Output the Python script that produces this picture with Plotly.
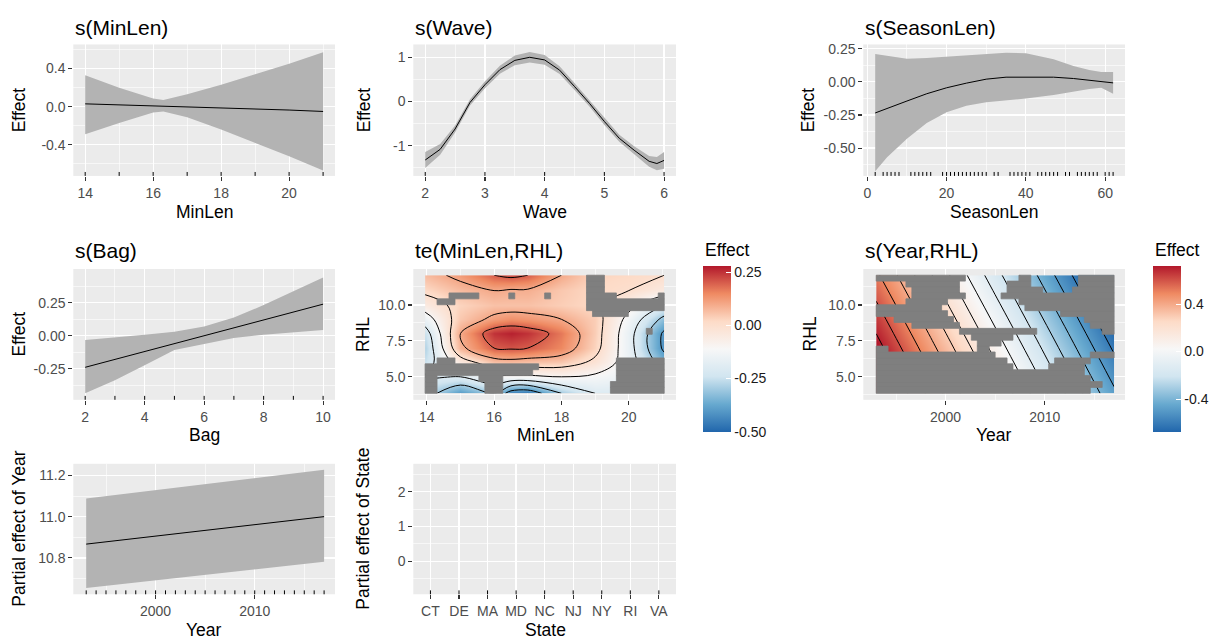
import numpy as np
import plotly.graph_objects as go

# ---------------- data ----------------
# s(MinLen)
minlen_x = [14, 15, 16, 16.3, 17, 18, 19, 20, 21]
minlen_fit = [0.03, 0.02, 0.01, 0.008, 0.0, -0.015, -0.025, -0.035, -0.05]
minlen_upper = [0.33, 0.20, 0.085, 0.07, 0.13, 0.23, 0.34, 0.45, 0.57]
minlen_lower = [-0.29, -0.17, -0.06, -0.05, -0.11, -0.24, -0.38, -0.52, -0.67]
minlen_rug = [14, 15, 16, 17, 18, 19, 20, 21]

# s(Wave)
wave_x = [2.0, 2.25, 2.5, 2.75, 3.0, 3.25, 3.5, 3.75, 4.0, 4.25, 4.5, 4.75, 5.0, 5.25, 5.5, 5.75, 5.88, 6.0]
wave_fit = [-1.32, -1.08, -0.62, -0.02, 0.38, 0.72, 0.93, 1.0, 0.94, 0.71, 0.34, -0.04, -0.45, -0.83, -1.1, -1.35, -1.4, -1.33]
wave_halfwidth = [0.18, 0.12, 0.08, 0.07, 0.08, 0.09, 0.11, 0.12, 0.11, 0.09, 0.08, 0.07, 0.08, 0.08, 0.09, 0.12, 0.15, 0.19]
wave_rug = [2, 3, 4, 5, 6]

# s(SeasonLen)
season_x = [2, 5, 10, 15, 20, 25, 30, 35, 40, 47, 52, 56, 59, 62]
season_fit = [-0.235, -0.2, -0.145, -0.09, -0.045, -0.01, 0.02, 0.035, 0.037, 0.035, 0.025, 0.013, 0.005, -0.008]
season_upper = [0.21, 0.195, 0.175, 0.18, 0.19, 0.2, 0.21, 0.22, 0.215, 0.17, 0.12, 0.09, 0.075, 0.075]
season_lower = [-0.675, -0.57, -0.43, -0.31, -0.23, -0.18, -0.155, -0.14, -0.125, -0.1, -0.075, -0.055, -0.045, -0.09]
season_rug = [2, 4, 5, 6, 7, 8, 11, 12, 13, 14, 15, 16, 19, 20, 21, 22, 23, 24, 25, 26, 27, 28, 29, 30,
              32, 33, 36, 37, 38, 39, 40, 41, 43, 44, 45, 46, 47, 48, 50, 51, 53, 54, 55, 56, 57, 58,
              60, 61, 62]

# s(Bag)
bag_x = [2, 3, 4, 5, 6, 7, 8, 9, 10]
bag_fit = [-0.24, -0.18, -0.12, -0.06, 0.0, 0.06, 0.12, 0.18, 0.24]
bag_upper = [-0.033, -0.015, 0.008, 0.03, 0.07, 0.138, 0.233, 0.338, 0.443]
bag_lower = [-0.438, -0.338, -0.225, -0.108, -0.063, -0.018, 0.008, 0.025, 0.043]
bag_rug = [2, 3, 4, 5, 6, 7, 8, 9, 10]

# te(MinLen,RHL) fitted surface (rows = RHL ascending)
te_minlen = [13.95, 15, 16, 16.5, 17, 18, 19, 20, 21.05]
te_rhl = [3.85, 5, 6, 7, 8, 9, 10, 11, 12.07]
te_effect = [
    [-0.25, -0.40, -0.30, -0.45, -0.47, -0.30, -0.20, -0.20, -0.20],
    [-0.20, -0.20, -0.12, -0.12, -0.12, -0.10, -0.12, -0.15, -0.25],
    [-0.25, -0.05, 0.06, 0.07, 0.06, 0.05, -0.02, -0.15, -0.35],
    [-0.28, 0.08, 0.20, 0.21, 0.20, 0.15, 0.03, -0.16, -0.42],
    [-0.25, 0.10, 0.25, 0.27, 0.25, 0.17, 0.04, -0.16, -0.42],
    [-0.15, 0.05, 0.12, 0.14, 0.13, 0.10, 0.04, -0.13, -0.33],
    [-0.05, 0.03, 0.06, 0.06, 0.06, 0.04, 0.02, -0.07, -0.20],
    [0.02, 0.07, 0.10, 0.09, 0.09, 0.05, 0.02, 0.00, -0.05],
    [0.07, 0.12, 0.20, 0.22, 0.20, 0.10, 0.03, 0.02, 0.00],
]
# grey (too far from data) cells on a 40 x 20 grid, top row first: runs of columns
te_masked_runs = [
    [(27, 29)], [(27, 29)], [(27, 29)],
    [(4, 8), (14, 14), (20, 20), (27, 31), (39, 39)],
    [(2, 4), (27, 39)], [(27, 39)], [(28, 33)], [], [], [(37, 37)],
    [], [], [], [],
    [(2, 4), (32, 39)], [(0, 18), (32, 39)], [(0, 17), (32, 39)],
    [(0, 1), (9, 12), (32, 39)], [(0, 1), (10, 12), (31, 39)], [(0, 1), (10, 12), (31, 39)],
]

# s(Year,RHL) fitted surface (rows = RHL ascending)
yr_year = [1993, 1999, 2005, 2011, 2017]
yr_rhl = [3.85, 8.0, 12.07]
yr_effect = [
    [0.88, 0.54, 0.20, -0.14, -0.48],
    [0.70, 0.36, 0.02, -0.32, -0.66],
    [0.52, 0.18, -0.16, -0.50, -0.84],
]
# cells covered by data on a 40 x 20 grid, top row first: runs of columns
yr_covered_runs = [
    [(15, 23), (26, 33)], [(0, 4), (14, 21), (26, 33)], [(0, 5), (14, 21), (28, 32)], [(0, 5), (15, 20)],
    [(0, 4), (12, 23)], [(11, 24)], [(12, 30)], [(0, 2), (13, 34)], [(0, 5), (14, 35)],
    [(0, 13), (27, 37)], [(0, 15), (23, 39)], [(0, 16), (21, 39)], [(2, 16), (19, 39)],
    [(20, 35)], [(22, 29), (36, 39)], [(23, 28), (35, 39)], [(35, 39)], [(36, 39)],
    [(38, 39)], [(36, 39)],
]

# parametric Year
year_x = [1993, 2017]
year_fit = [10.867, 11.0]
year_upper = [11.088, 11.227]
year_lower = [10.654, 10.782]
year_rug = [1993, 1994, 1995, 1996, 1997, 1998, 1999, 2000, 2001, 2002, 2003, 2004, 2005,
            2006, 2007, 2008, 2009, 2010, 2011, 2012, 2013, 2014, 2015, 2016, 2017]

# State factor
state_cats = ['CT', 'DE', 'MA', 'MD', 'NC', 'NJ', 'NY', 'RI', 'VA']

# ---------------- styling / layout ----------------
W, H = 1221, 639
COLS = [(73.3, 335.0), (413.3, 676.0), (863.3, 1125.0)]
ROWS = [(40.7, 173.0), (266.7, 398.3), (462.7, 594.0)]
RIBBON = '#B3B3B3'
MASK = '#7F7F7F'
TICKFONT = dict(size=14, color='#4D4D4D')
AXTITLE = 17.5
RDBU = [[0.0, '#2166AC'], [1 / 6, '#67A9CF'], [2 / 6, '#D1E5F0'], [3 / 6, '#F7F7F7'],
        [4 / 6, '#FDDBC7'], [5 / 6, '#EF8A62'], [1.0, '#B2182B']]


def xdom(c):
    return [COLS[c][0] / W, COLS[c][1] / W]


def ydom(r):
    return [1 - ROWS[r][1] / H, 1 - ROWS[r][0] / H]


def sfx(i):
    return '' if i == 1 else str(i)


panels = {
    1: dict(col=0, row=0, xr=[13.65, 21.35], yr=[-0.726, 0.653],
            xt=([14, 16, 18, 20], ['14', '16', '18', '20']), yt=([-0.4, 0, 0.4], ['-0.4', '0.0', '0.4']),
            xm=[15, 17, 19, 21], ym=[-0.6, -0.2, 0.2, 0.6]),
    2: dict(col=1, row=0, xr=[1.8, 6.2], yr=[-1.68, 1.29],
            xt=([2, 3, 4, 5, 6], ['2', '3', '4', '5', '6']), yt=([-1, 0, 1], ['-1', '0', '1']),
            xm=[2.5, 3.5, 4.5, 5.5], ym=[-1.5, -0.5, 0.5]),
    3: dict(col=2, row=0, xr=[-1, 65], yr=[-0.71, 0.282],
            xt=([0, 20, 40, 60], ['0', '20', '40', '60']),
            yt=([-0.5, -0.25, 0, 0.25], ['-0.50', '-0.25', '0.00', '0.25']),
            xm=[10, 30, 50], ym=[-0.625, -0.375, -0.125, 0.125]),
    4: dict(col=0, row=1, xr=[1.6, 10.4], yr=[-0.487, 0.507],
            xt=([2, 4, 6, 8, 10], ['2', '4', '6', '8', '10']),
            yt=([-0.25, 0, 0.25], ['-0.25', '0.00', '0.25']),
            xm=[3, 5, 7, 9], ym=[-0.375, -0.125, 0.125, 0.375]),
    5: dict(col=1, row=1, xr=[13.6, 21.4], yr=[3.4, 12.5],
            xt=([14, 16, 18, 20], ['14', '16', '18', '20']), yt=([5, 7.5, 10], ['5.0', '7.5', '10.0']),
            xm=[15, 17, 19, 21], ym=[3.75, 6.25, 8.75, 11.25]),
    6: dict(col=2, row=1, xr=[1991.7, 2018.1], yr=[3.4, 12.5],
            xt=([2000, 2010], ['2000', '2010']), yt=([5, 7.5, 10], ['5.0', '7.5', '10.0']),
            xm=[1995, 2005, 2015], ym=[3.75, 6.25, 8.75, 11.25]),
    7: dict(col=0, row=2, xr=[1991.7, 2018.1], yr=[10.624, 11.256],
            xt=([2000, 2010], ['2000', '2010']), yt=([10.8, 11.0, 11.2], ['10.8', '11.0', '11.2']),
            xm=[1995, 2005, 2015], ym=[10.7, 10.9, 11.1]),
    8: dict(col=1, row=2, xr=[-0.6, 8.6], yr=[-0.95, 2.8],
            xt=None, yt=([0, 1, 2], ['0', '1', '2']),
            xm=None, ym=[-0.5, 0.5, 1.5, 2.5]),
}

axis_common = dict(showline=False, zeroline=False, showgrid=True, gridcolor='white', gridwidth=1.2,
                   ticks='outside', ticklen=4, tickwidth=1.1, tickcolor='#333333',
                   tickfont=TICKFONT, fixedrange=True)

layout = dict(width=W, height=H, margin=dict(l=0, r=0, t=0, b=0), paper_bgcolor='white',
              plot_bgcolor='#EBEBEB', showlegend=False,
              font=dict(family='Liberation Sans, Arial, sans-serif', color='black'))

for i, p in panels.items():
    s = sfx(i)
    xa = dict(domain=xdom(p['col']), anchor='y' + s, range=p['xr'], **axis_common)
    ya = dict(domain=ydom(p['row']), anchor='x' + s, range=p['yr'], **axis_common)
    if p['xt'] is not None:
        xa.update(tickmode='array', tickvals=p['xt'][0], ticktext=p['xt'][1])
    else:
        xa.update(type='category', categoryorder='array', categoryarray=state_cats)
    ya.update(tickmode='array', tickvals=p['yt'][0], ticktext=p['yt'][1])
    if p['xm'] is not None:
        xa['minor'] = dict(tickvals=p['xm'], showgrid=True, gridcolor='white', gridwidth=0.6)
    ya['minor'] = dict(tickvals=p['ym'], showgrid=True, gridcolor='white', gridwidth=0.6)
    layout['xaxis' + s] = xa
    layout['yaxis' + s] = ya

fig = go.Figure()
shapes = []
annotations = []


def add_smooth(i, xs, fit, upper, lower):
    s = sfx(i)
    fig.add_trace(go.Scatter(x=list(xs) + list(xs)[::-1], y=list(upper) + list(lower)[::-1],
                             fill='toself', fillcolor=RIBBON, mode='lines',
                             line=dict(width=0, color=RIBBON), hoverinfo='skip',
                             xaxis='x' + s, yaxis='y' + s))
    fig.add_trace(go.Scatter(x=xs, y=fit, mode='lines', line=dict(color='black', width=1),
                             hoverinfo='skip', xaxis='x' + s, yaxis='y' + s))


def add_rug(i, values):
    s = sfx(i)
    for v in values:
        shapes.append(dict(type='line', xref='x' + s, yref='y' + s + ' domain', x0=v, x1=v,
                           y0=0, y1=0.03, line=dict(color='black', width=1)))


add_smooth(1, minlen_x, minlen_fit, minlen_upper, minlen_lower)
add_rug(1, minlen_rug)
add_smooth(2, wave_x, wave_fit, [f + h for f, h in zip(wave_fit, wave_halfwidth)],
           [f - h for f, h in zip(wave_fit, wave_halfwidth)])
add_rug(2, wave_rug)
add_smooth(3, season_x, season_fit, season_upper, season_lower)
add_rug(3, season_rug)
add_smooth(4, bag_x, bag_fit, bag_upper, bag_lower)
add_rug(4, bag_rug)
add_smooth(7, year_x, year_fit, year_upper, year_lower)
add_rug(7, year_rug)

# empty factor panel
fig.add_trace(go.Scatter(x=state_cats, y=[0] * len(state_cats), mode='markers',
                         marker=dict(opacity=0), hoverinfo='skip', xaxis='x8', yaxis='y8'))
add_rug(8, state_cats)


def grey_runs(runs, ncol, runs_are_grey):
    if runs_are_grey:
        return runs
    out = []
    for row in runs:
        cov = np.zeros(ncol, bool)
        for a, b in row:
            cov[a:b + 1] = True
        g, c = [], 0
        while c < ncol:
            if not cov[c]:
                s0 = c
                while c < ncol and not cov[c]:
                    c += 1
                g.append((s0, c - 1))
            else:
                c += 1
        out.append(g)
    return out


def add_surface(i, xs, ys, z, zmin, zmax, levels, cb_x, cb_vals, cb_text, runs, runs_are_grey):
    s = sfx(i)
    # fitted surface with its contour lines
    fig.add_trace(go.Contour(x=xs, y=ys, z=z, zmin=zmin, zmax=zmax, zauto=False, colorscale=RDBU,
                             autocontour=False, showscale=False,
                             contours=dict(coloring='heatmap', showlines=True, start=levels[0],
                                           end=levels[1], size=levels[2]),
                             line=dict(color='black', width=1, smoothing=1),
                             hoverinfo='skip', xaxis='x' + s, yaxis='y' + s))
    # grey "too far" cells, drawn above the surface
    ncol, nrow = 40, len(runs)
    dx = (xs[-1] - xs[0]) / ncol
    dy = (ys[-1] - ys[0]) / nrow
    px, py = [], []
    for r, row in enumerate(grey_runs(runs, ncol, runs_are_grey)):
        top = ys[-1] - r * dy
        bot = top - dy
        for a, b in row:
            x0 = xs[0] + a * dx
            x1 = xs[0] + (b + 1) * dx
            px += [x0, x1, x1, x0, x0, None]
            py += [bot, bot, top, top, bot, None]
    fig.add_trace(go.Scatter(x=px, y=py, mode='lines', fill='toself', fillcolor=MASK,
                             line=dict(color=MASK, width=0.8), hoverinfo='skip',
                             xaxis='x' + s, yaxis='y' + s))
    # colour bar
    fig.add_trace(go.Scatter(x=[xs[0], xs[0]], y=[ys[0], ys[0]], mode='markers',
                             marker=dict(size=0.1, color=[zmin, zmax], cmin=zmin, cmax=zmax,
                                         colorscale=RDBU, showscale=True,
                                         colorbar=dict(x=cb_x / W, xanchor='left', y=1 - 263.3 / H,
                                                       yanchor='top', len=166, lenmode='pixels',
                                                       thickness=28, thicknessmode='pixels',
                                                       xpad=0, ypad=0, outlinewidth=0,
                                                       ticks='inside', ticklen=5, tickcolor='white',
                                                       tickwidth=1, tickmode='array', tickvals=cb_vals,
                                                       ticktext=cb_text,
                                                       tickfont=dict(size=14, color='#1A1A1A'))),
                             hoverinfo='skip', xaxis='x' + s, yaxis='y' + s))


add_surface(5, te_minlen, te_rhl, te_effect, -0.5, 0.28, (-0.4, 0.2, 0.1), 702.7,
            [-0.5, -0.25, 0, 0.25], ['-0.50', '-0.25', '0.00', '0.25'], te_masked_runs, True)
add_surface(6, yr_year, yr_rhl, yr_effect, -0.675, 0.723, (-0.6, 0.7, 0.1), 1153.3,
            [-0.4, 0, 0.4], ['-0.4', '0.0', '0.4'], yr_covered_runs, False)


def txt(text, x, y, size, xanchor='center', angle=0, color='black'):
    annotations.append(dict(text=text, x=x / W, y=1 - y / H, xref='paper', yref='paper',
                            xanchor=xanchor, yanchor='middle', showarrow=False, textangle=angle,
                            font=dict(size=size, color=color)))


# panel titles
for t, x, y in [('s(MinLen)', 73.3, 24), ('s(Wave)', 413.3, 24), ('s(SeasonLen)', 863.3, 24),
                ('s(Bag)', 73.3, 248), ('te(MinLen,RHL)', 413.3, 248), ('s(Year,RHL)', 863.3, 248)]:
    txt(t, x, y, 21, xanchor='left')
# x titles
for t, x, y in [('MinLen', 204, 209), ('Wave', 545, 209), ('SeasonLen', 994, 209),
                ('Bag', 204, 434), ('MinLen', 545, 434), ('Year', 994, 434),
                ('Year', 204, 630), ('State', 545, 630)]:
    txt(t, x, y, AXTITLE)
# y titles
for t, x, y in [('Effect', 19, 107), ('Effect', 364, 107), ('Effect', 808, 107),
                ('Effect', 19, 332.5), ('RHL', 363.5, 332.5), ('RHL', 810, 332.5),
                ('Partial effect of Year', 19, 528), ('Partial effect of State', 363, 528)]:
    txt(t, x, y, AXTITLE, angle=-90)
# legend titles
txt('Effect', 703, 248, AXTITLE, xanchor='left')
txt('Effect', 1153, 248, AXTITLE, xanchor='left')

layout['shapes'] = shapes
layout['annotations'] = annotations
fig.update_layout(**layout)

fig.write_html("out.html", include_plotlyjs=True, full_html=True,
               config={'displayModeBar': False, 'staticPlot': True},
               post_script="document.body.style.margin='0';")
